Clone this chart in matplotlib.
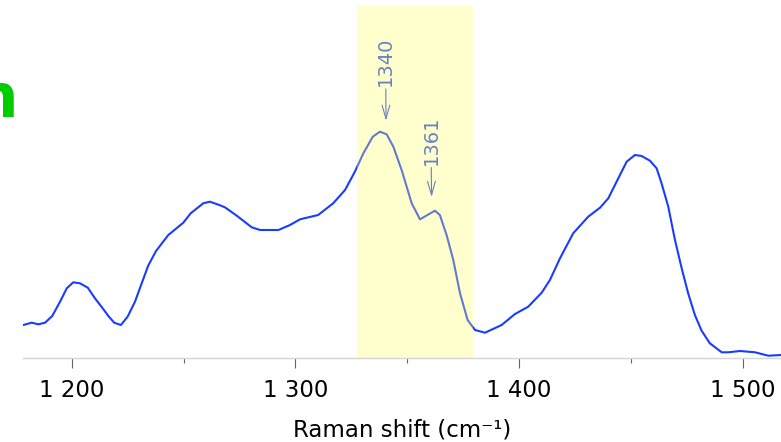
import matplotlib
matplotlib.use("Agg")
import matplotlib.pyplot as plt

plt.rcParams['font.family'] = ['DejaVu Sans']

# ---- data ----
raman_shift = [1178.4, 1182.1, 1185.1, 1188.1, 1191.3, 1194.8, 1197.8, 1200.7, 1203.7, 1207.2,
               1210.4, 1214.1, 1216.4, 1219.0, 1222.0, 1225.0, 1228.3, 1231.3, 1234.2, 1237.7,
               1243.2, 1249.9, 1253.2, 1258.8, 1261.8, 1266.0, 1268.5, 1273.8, 1280.5, 1284.2,
               1292.4, 1297.6, 1302.1, 1310.2, 1316.9, 1322.2, 1326.6, 1330.4, 1334.6, 1337.8,
               1340.8, 1343.8, 1347.5, 1352.0, 1355.7, 1362.4, 1364.6, 1367.6, 1370.6, 1373.6,
               1377.0, 1380.3, 1384.8, 1392.2, 1398.2, 1404.1, 1410.1, 1413.8, 1418.3, 1424.2,
               1430.9, 1436.2, 1439.9, 1443.6, 1448.1, 1451.8, 1454.8, 1458.5, 1461.5, 1463.7,
               1466.7, 1469.7, 1472.7, 1475.6, 1478.6, 1481.6, 1485.3, 1490.6, 1493.5, 1498.8,
               1505.5, 1511.4, 1517.1]
intensity = [33.3, 35.6, 34.0, 35.6, 42.3, 56.6, 70.0, 76.0, 75.0, 70.6,
             60.0, 49.3, 42.3, 35.6, 33.3, 41.6, 56.6, 75.0, 92.6, 107.3,
             123.3, 135.6, 145.0, 155.0, 156.6, 153.3, 151.0, 142.6, 131.0, 128.3,
             128.3, 133.3, 139.0, 143.3, 155.0, 168.3, 186.6, 205.0, 221.6, 226.6,
             224.0, 211.6, 188.3, 155.0, 139.0, 147.6, 143.3, 123.3, 98.3, 65.0,
             38.3, 28.3, 25.6, 33.3, 44.3, 51.6, 65.6, 78.3, 100.0, 125.0,
             141.6, 150.6, 160.0, 176.6, 196.6, 203.3, 202.3, 197.6, 190.0, 175.0,
             151.6, 118.3, 90.0, 65.0, 43.3, 27.6, 15.0, 6.0, 6.0, 7.3,
             6.0, 2.6, 3.3]

highlight_range = (1327.7, 1379.3)
peak_labels = ["1340", "1361"]
peak_tips = [(1340.5, 237.6), (1360.9, 161.3)]
peak_text_pos = [(1340.4, 296.8), (1360.6, 218.3)]

major_ticks = [1200, 1300, 1400, 1500]
major_tick_labels = ["1 200", "1 300", "1 400", "1 500"]
minor_ticks = [1250, 1350, 1450]

W, H = 781, 442
fig = plt.figure(figsize=(W / 100, H / 100), dpi=100)
ax = fig.add_axes([22.7 / W, (H - 358.3) / H, 1 - 22.7 / W, (358.3 - 6) / H])

ax.plot(raman_shift, intensity, color='#1a3cff', lw=1.5, zorder=2)
ax.axvspan(*highlight_range, color='#ffff64', alpha=0.32, lw=0, zorder=3)

for lab, tip, tpos in zip(peak_labels, peak_tips, peak_text_pos):
    ax.annotate(lab, xy=tip, xytext=tpos, rotation=90, ha='center', va='center',
                fontsize=14, color='#6482c8', zorder=4,
                arrowprops=dict(arrowstyle='->,head_length=0.7,head_width=0.2',
                                color='#6482c8', lw=0.8, shrinkA=0, shrinkB=0))

ax.set_xlim(1178.1, 1517.1)
ax.set_ylim(0, 352.3)
ax.set_yticks([])
for s in ['left', 'top', 'right']:
    ax.spines[s].set_visible(False)
ax.spines['bottom'].set_color('#d4d4d4')
ax.spines['bottom'].set_linewidth(1.0)

ax.set_xticks(major_ticks)
ax.set_xticklabels(major_tick_labels)
ax.set_xticks(minor_ticks, minor=True)
ax.tick_params(axis='x', which='major', length=7.2, width=0.8, color='#666666',
               labelsize=16.5, pad=7.9, labelcolor='black')
ax.tick_params(axis='x', which='minor', length=3.6, width=0.8, color='#666666')

ax.set_xlabel("Raman shift (cm\u207b\u00b9)", fontsize=16.5, labelpad=11.5)

fig.text(18.3 / W, (H - 117) / H, "n", color='#00cc00', fontsize=44,
         fontweight='bold', ha='right', va='baseline')

fig.savefig("out.png", dpi=100)
